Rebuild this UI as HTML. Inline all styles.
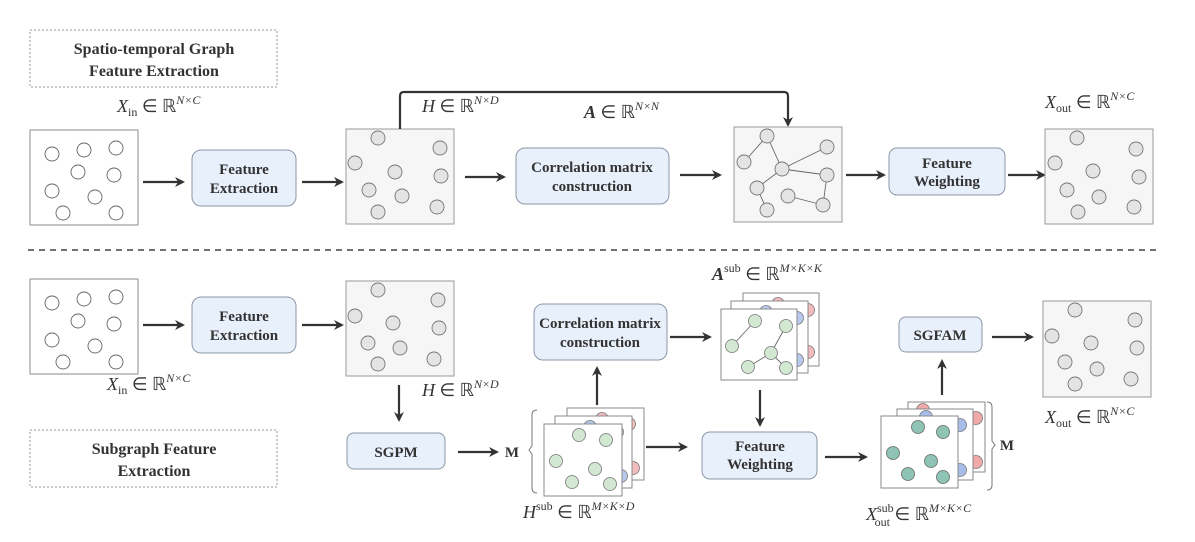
<!DOCTYPE html>
<html><head><meta charset="utf-8"><style>
html,body{margin:0;padding:0;background:#fff;}
svg{display:block;}
.bt{font-family:"Liberation Serif",serif;font-weight:bold;font-size:15px;fill:#333;text-anchor:middle;}
.tt{font-family:"Liberation Serif",serif;font-weight:bold;font-size:16px;fill:#333;text-anchor:middle;}
.m{font-family:"Liberation Serif",serif;font-size:18px;fill:#333;}
.box{fill:#e8f0fc;stroke:#8c96a4;stroke-width:1;}
.pan{fill:#fff;stroke:#888;stroke-width:1;}
.pan2{fill:#f6f6f6;stroke:#999;stroke-width:1;}
.cw{fill:#fff;stroke:#666;stroke-width:0.9;}
.cg{fill:#e4e4e4;stroke:#777;stroke-width:0.9;}
.ar{stroke:#333;stroke-width:2.2;fill:none;}
.e{stroke:#666;stroke-width:0.9;}
</style></head><body>
<svg width="1195" height="542" viewBox="0 0 1195 542" xmlns="http://www.w3.org/2000/svg">
<defs>
<marker id="a" markerWidth="10" markerHeight="10" refX="8" refY="5" orient="auto" markerUnits="userSpaceOnUse">
<path d="M0,0 L10,5 L0,10 L3,5 z" fill="#333"/></marker>
</defs>

<rect x="30" y="30" width="247" height="57" fill="none" stroke="#999" stroke-dasharray="2,2"/>
<text class="tt" x="154" y="54">Spatio-temporal Graph</text>
<text class="tt" x="154" y="76">Feature Extraction</text>

<text class="m" x="117" y="112"><tspan font-style="italic">X</tspan><tspan font-size="12" dy="4">in</tspan><tspan dy="-4"> ∈ ℝ</tspan><tspan font-size="12" dy="-8" font-style="italic">N×C</tspan></text>
<rect class="pan" x="30" y="130" width="108" height="95"/>
<g class="cw">
<circle cx="52" cy="154" r="7"/><circle cx="84" cy="150" r="7"/><circle cx="116" cy="148" r="7"/>
<circle cx="78" cy="172" r="7"/><circle cx="114" cy="175" r="7"/><circle cx="52" cy="191" r="7"/>
<circle cx="95" cy="197" r="7"/><circle cx="63" cy="213" r="7"/><circle cx="116" cy="213" r="7"/>
</g>
<line class="ar" x1="143" y1="182" x2="183" y2="182" marker-end="url(#a)"/>
<rect class="box" x="192" y="150" width="104" height="56" rx="9"/>
<text class="bt" x="244" y="174">Feature</text><text class="bt" x="244" y="193">Extraction</text>
<line class="ar" x1="302" y1="182" x2="342" y2="182" marker-end="url(#a)"/>

<rect class="pan2" x="346" y="129" width="108" height="95"/>
<g class="cg">
<circle cx="378" cy="138" r="7"/><circle cx="440" cy="148" r="7"/><circle cx="355" cy="163" r="7"/>
<circle cx="395" cy="172" r="7"/><circle cx="441" cy="176" r="7"/><circle cx="369" cy="190" r="7"/>
<circle cx="402" cy="196" r="7"/><circle cx="437" cy="207" r="7"/><circle cx="378" cy="212" r="7"/>
</g>
<text class="m" x="422" y="112"><tspan font-style="italic">H</tspan><tspan> ∈ ℝ</tspan><tspan font-size="12" dy="-8" font-style="italic">N×D</tspan></text>
<path class="ar" d="M400,129 L400,96 Q400,92 404,92 L784,92 Q788,92 788,96 L788,125" marker-end="url(#a)"/>

<line class="ar" x1="465" y1="177" x2="504" y2="177" marker-end="url(#a)"/>
<rect class="box" x="516" y="148" width="153" height="56" rx="9"/>
<text class="bt" x="592" y="172">Correlation matrix</text><text class="bt" x="592" y="191">construction</text>
<text class="m" x="584" y="118"><tspan font-style="italic" font-weight="bold">A</tspan><tspan> ∈ ℝ</tspan><tspan font-size="12" dy="-8" font-style="italic">N×N</tspan></text>
<line class="ar" x1="680" y1="175" x2="720" y2="175" marker-end="url(#a)"/>

<rect class="pan2" x="734" y="127" width="108" height="95"/>
<g class="e">
<line x1="767" y1="136" x2="744" y2="162"/><line x1="767" y1="136" x2="782" y2="169"/>
<line x1="782" y1="169" x2="827" y2="147"/><line x1="782" y1="169" x2="827" y2="175"/>
<line x1="782" y1="169" x2="757" y2="188"/><line x1="757" y1="188" x2="767" y2="210"/>
<line x1="788" y1="196" x2="823" y2="205"/><line x1="823" y1="205" x2="827" y2="175"/>
</g>
<g class="cg">
<circle cx="767" cy="136" r="7"/><circle cx="744" cy="162" r="7"/><circle cx="782" cy="169" r="7"/>
<circle cx="827" cy="147" r="7"/><circle cx="827" cy="175" r="7"/><circle cx="757" cy="188" r="7"/>
<circle cx="788" cy="196" r="7"/><circle cx="823" cy="205" r="7"/><circle cx="767" cy="210" r="7"/>
</g>
<line class="ar" x1="846" y1="175" x2="884" y2="175" marker-end="url(#a)"/>
<rect class="box" x="889" y="148" width="116" height="47" rx="8"/>
<text class="bt" x="947" y="168">Feature</text><text class="bt" x="947" y="186">Weighting</text>
<line class="ar" x1="1008" y1="175" x2="1044" y2="175" marker-end="url(#a)"/>

<text class="m" x="1045" y="108"><tspan font-style="italic">X</tspan><tspan font-size="12" dy="4">out</tspan><tspan dy="-4"> ∈ ℝ</tspan><tspan font-size="12" dy="-8" font-style="italic">N×C</tspan></text>
<rect class="pan2" x="1045" y="129" width="108" height="95"/>
<g class="cg">
<circle cx="1077" cy="138" r="7"/><circle cx="1136" cy="149" r="7"/><circle cx="1055" cy="163" r="7"/>
<circle cx="1093" cy="171" r="7"/><circle cx="1139" cy="177" r="7"/><circle cx="1067" cy="190" r="7"/>
<circle cx="1099" cy="197" r="7"/><circle cx="1134" cy="207" r="7"/><circle cx="1078" cy="212" r="7"/>
</g>

<line x1="28" y1="250" x2="1160" y2="250" stroke="#444" stroke-width="1.5" stroke-dasharray="6,5"/>

<rect class="pan" x="30" y="279" width="108" height="95"/>
<g class="cw">
<circle cx="52" cy="303" r="7"/><circle cx="84" cy="299" r="7"/><circle cx="116" cy="297" r="7"/>
<circle cx="78" cy="321" r="7"/><circle cx="114" cy="324" r="7"/><circle cx="52" cy="340" r="7"/>
<circle cx="95" cy="346" r="7"/><circle cx="63" cy="362" r="7"/><circle cx="116" cy="362" r="7"/>
</g>
<text class="m" x="107" y="390"><tspan font-style="italic">X</tspan><tspan font-size="12" dy="4">in</tspan><tspan dy="-4"> ∈ ℝ</tspan><tspan font-size="12" dy="-8" font-style="italic">N×C</tspan></text>
<line class="ar" x1="143" y1="325" x2="183" y2="325" marker-end="url(#a)"/>
<rect class="box" x="192" y="297" width="104" height="56" rx="9"/>
<text class="bt" x="244" y="321">Feature</text><text class="bt" x="244" y="340">Extraction</text>
<line class="ar" x1="302" y1="325" x2="342" y2="325" marker-end="url(#a)"/>

<rect class="pan2" x="346" y="281" width="108" height="95"/>
<g class="cg">
<circle cx="378" cy="290" r="7"/><circle cx="438" cy="300" r="7"/><circle cx="355" cy="316" r="7"/>
<circle cx="393" cy="323" r="7"/><circle cx="439" cy="328" r="7"/><circle cx="368" cy="343" r="7"/>
<circle cx="400" cy="348" r="7"/><circle cx="434" cy="359" r="7"/><circle cx="378" cy="364" r="7"/>
</g>
<line class="ar" x1="399" y1="385" x2="399" y2="420" marker-end="url(#a)"/>
<text class="m" x="422" y="396"><tspan font-style="italic">H</tspan><tspan> ∈ ℝ</tspan><tspan font-size="12" dy="-8" font-style="italic">N×D</tspan></text>

<rect x="30" y="430" width="247" height="57" fill="none" stroke="#999" stroke-dasharray="2,2"/>
<text class="tt" x="154" y="454">Subgraph Feature</text>
<text class="tt" x="154" y="476">Extraction</text>

<rect class="box" x="347" y="433" width="98" height="36" rx="7"/>
<text class="bt" x="396" y="457">SGPM</text>
<line class="ar" x1="458" y1="452" x2="497" y2="452" marker-end="url(#a)"/>
<text class="bt" x="512" y="457">M</text>
<path d="M537,410 Q532,410 532,415 L532,446 L529,450 L532,454 L532,488 Q532,493 537,493" fill="none" stroke="#777"/>

<rect class="pan" x="567" y="408" width="77" height="72"/>
<g fill="#f2bcbc" stroke="#777" stroke-width="0.8"><circle cx="602" cy="419" r="6.5"/><circle cx="629" cy="424" r="6.5"/><circle cx="618" cy="453" r="6.5"/><circle cx="633" cy="468" r="6.5"/></g>
<rect class="pan" x="555" y="416" width="77" height="72"/>
<g fill="#b9c9ee" stroke="#777" stroke-width="0.8"><circle cx="590" cy="427" r="6.5"/><circle cx="617" cy="432" r="6.5"/><circle cx="606" cy="461" r="6.5"/><circle cx="621" cy="476" r="6.5"/></g>
<rect class="pan" x="544" y="424" width="78" height="72"/>
<g fill="#d2e8d2" stroke="#777" stroke-width="0.8">
<circle cx="579" cy="435" r="6.5"/><circle cx="606" cy="440" r="6.5"/><circle cx="556" cy="461" r="6.5"/>
<circle cx="595" cy="469" r="6.5"/><circle cx="572" cy="482" r="6.5"/><circle cx="610" cy="484" r="6.5"/></g>
<text class="m" x="523" y="518"><tspan font-style="italic">H</tspan><tspan font-size="12" dy="-8">sub</tspan><tspan dy="8"> ∈ ℝ</tspan><tspan font-size="12" dy="-8" font-style="italic">M×K×D</tspan></text>

<line class="ar" x1="597" y1="405" x2="597" y2="368" marker-end="url(#a)"/>
<rect class="box" x="534" y="304" width="133" height="56" rx="9"/>
<text class="bt" x="600" y="328">Correlation matrix</text><text class="bt" x="600" y="347">construction</text>
<line class="ar" x1="670" y1="337" x2="710" y2="337" marker-end="url(#a)"/>

<text class="m" x="712" y="280"><tspan font-style="italic" font-weight="bold">A</tspan><tspan font-size="12" dy="-8">sub</tspan><tspan dy="8"> ∈ ℝ</tspan><tspan font-size="12" dy="-8" font-style="italic">M×K×K</tspan></text>
<rect class="pan" x="743" y="293" width="76" height="73"/>
<g fill="#f2bcbc" stroke="#777" stroke-width="0.8"><circle cx="778" cy="304" r="6.5"/><circle cx="808" cy="310" r="6.5"/><circle cx="808" cy="352" r="6.5"/></g>
<rect class="pan" x="731" y="301" width="77" height="72"/>
<g fill="#b9c9ee" stroke="#777" stroke-width="0.8"><circle cx="766" cy="312" r="6.5"/><circle cx="797" cy="318" r="6.5"/><circle cx="797" cy="360" r="6.5"/></g>
<rect class="pan" x="721" y="309" width="76" height="71"/>
<g class="e"><line x1="755" y1="321" x2="732" y2="346"/><line x1="786" y1="326" x2="771" y2="353"/><line x1="771" y1="353" x2="748" y2="367"/><line x1="771" y1="353" x2="786" y2="368"/></g>
<g fill="#d2e8d2" stroke="#777" stroke-width="0.8">
<circle cx="755" cy="321" r="6.5"/><circle cx="786" cy="326" r="6.5"/><circle cx="732" cy="346" r="6.5"/>
<circle cx="771" cy="353" r="6.5"/><circle cx="748" cy="367" r="6.5"/><circle cx="786" cy="368" r="6.5"/></g>
<line class="ar" x1="760" y1="390" x2="760" y2="425" marker-end="url(#a)"/>

<line class="ar" x1="646" y1="447" x2="686" y2="447" marker-end="url(#a)"/>
<rect class="box" x="702" y="432" width="115" height="47" rx="8"/>
<text class="bt" x="760" y="451">Feature</text><text class="bt" x="760" y="469">Weighting</text>
<line class="ar" x1="825" y1="457" x2="866" y2="457" marker-end="url(#a)"/>

<rect class="pan" x="908" y="402" width="77" height="70"/>
<g fill="#f0a8a8" stroke="#777" stroke-width="0.8"><circle cx="923" cy="410" r="6.5"/><circle cx="976" cy="418" r="6.5"/><circle cx="976" cy="462" r="6.5"/></g>
<rect class="pan" x="897" y="409" width="76" height="71"/>
<g fill="#a7bde8" stroke="#777" stroke-width="0.8"><circle cx="926" cy="417" r="6.5"/><circle cx="960" cy="425" r="6.5"/><circle cx="960" cy="470" r="6.5"/></g>
<rect class="pan" x="881" y="416" width="77" height="72"/>
<g fill="#8fc4b4" stroke="#666" stroke-width="0.8">
<circle cx="918" cy="427" r="6.5"/><circle cx="943" cy="432" r="6.5"/><circle cx="893" cy="453" r="6.5"/>
<circle cx="931" cy="461" r="6.5"/><circle cx="908" cy="474" r="6.5"/><circle cx="943" cy="477" r="6.5"/></g>
<path d="M987,402 Q992,402 992,407 L992,441 L995,445 L992,449 L992,485 Q992,490 987,490" fill="none" stroke="#777"/>
<text class="bt" x="1007" y="450">M</text>
<text class="m" x="866" y="520"><tspan font-style="italic">X</tspan><tspan font-size="12" dy="-8">sub</tspan><tspan font-size="12" dx="-19" dy="14">out</tspan><tspan dy="-6"> ∈ ℝ</tspan><tspan font-size="12" dy="-8" font-style="italic">M×K×C</tspan></text>

<line class="ar" x1="942" y1="395" x2="942" y2="361" marker-end="url(#a)"/>
<rect class="box" x="899" y="317" width="83" height="35" rx="7"/>
<text class="bt" x="940" y="340">SGFAM</text>
<line class="ar" x1="992" y1="337" x2="1032" y2="337" marker-end="url(#a)"/>

<rect class="pan2" x="1043" y="301" width="108" height="96"/>
<g class="cg">
<circle cx="1075" cy="310" r="7"/><circle cx="1135" cy="320" r="7"/><circle cx="1052" cy="336" r="7"/>
<circle cx="1091" cy="343" r="7"/><circle cx="1137" cy="348" r="7"/><circle cx="1065" cy="362" r="7"/>
<circle cx="1097" cy="369" r="7"/><circle cx="1131" cy="379" r="7"/><circle cx="1075" cy="384" r="7"/>
</g>
<text class="m" x="1045" y="423"><tspan font-style="italic">X</tspan><tspan font-size="12" dy="4">out</tspan><tspan dy="-4"> ∈ ℝ</tspan><tspan font-size="12" dy="-8" font-style="italic">N×C</tspan></text>
</svg>
</body></html>
